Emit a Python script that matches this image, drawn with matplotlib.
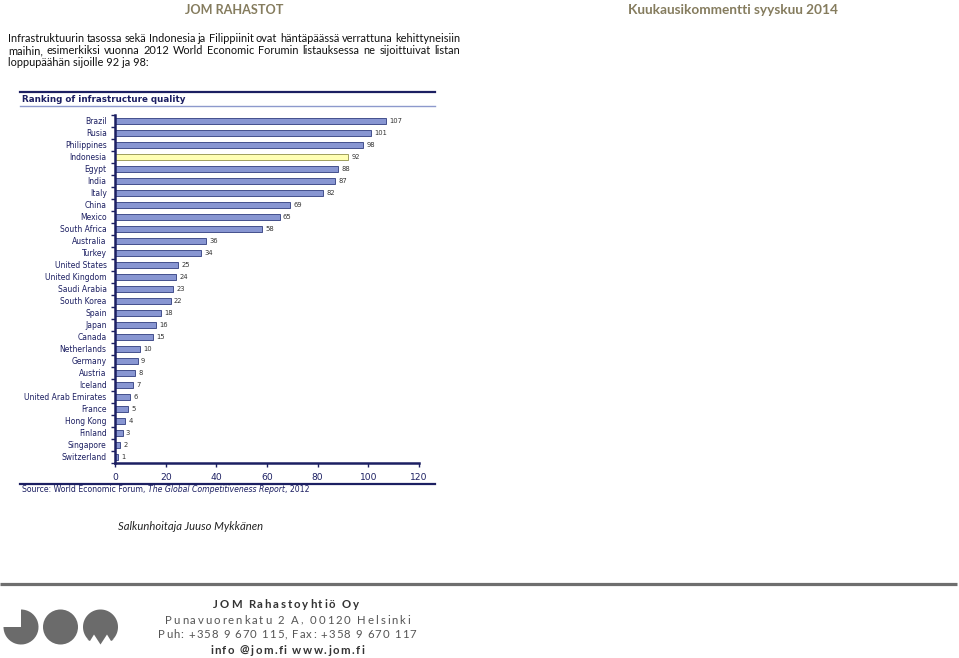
import numpy as np
import matplotlib.pyplot as plt
from matplotlib.patches import Circle, Wedge, Polygon

W, H = 959, 658

countries = ["Brazil", "Rusia", "Philippines", "Indonesia", "Egypt", "India", "Italy",
             "China", "Mexico", "South Africa", "Australia", "Turkey", "United States",
             "United Kingdom", "Saudi Arabia", "South Korea", "Spain", "Japan", "Canada",
             "Netherlands", "Germany", "Austria", "Iceland", "United Arab Emirates",
             "France", "Hong Kong", "Finland", "Singapore", "Switzerland"]
ranks = [107, 101, 98, 92, 88, 87, 82, 69, 65, 58, 36, 34, 25, 24, 23, 22, 18, 16, 15,
         10, 9, 8, 7, 6, 5, 4, 3, 2, 1]
highlight = "Indonesia"
xticks = [0, 20, 40, 60, 80, 100, 120]

paragraph = ["Infrastruktuurin tasossa sekä Indonesia ja Filippiinit ovat häntäpäässä verrattuna kehittyneisiin",
             "maihin, esimerkiksi vuonna 2012 World Economic Forumin listauksessa ne sijoittuivat listan",
             "loppupäähän sijoille 92 ja 98:"]
footer = ["JOM Rahastoyhtiö Oy", "Punavuorenkatu 2 A, 00120 Helsinki",
          "Puh: +358 9 670 115, Fax: +358 9 670 117", "info @jom.fi www.jom.fi"]

navy = "#1c1f62"
khaki = "#857c5e"
grey = "#6b6b6b"

fig = plt.figure(figsize=(W / 100, H / 100), dpi=100)
renderer = fig.canvas.get_renderer()

# page overlay in pixel coordinates (y down)
pg = fig.add_axes([0, 0, 1, 1])
pg.set_xlim(0, W)
pg.set_ylim(H, 0)
pg.axis("off")


def width_of(s, **kw):
    t = pg.text(0, 0, s, **kw)
    w = t.get_window_extent(renderer).width
    t.remove()
    return w


def fit_text(x0, x1, y, s, **kw):
    # pick a font size so the string spans x0..x1
    w = width_of(s, fontsize=10, **kw)
    size = 10 * (x1 - x0) / w
    pg.text(x0, y, s, fontsize=size, va="center", ha="left", **kw)
    return size


def justify(x0, x1, y, s, size, **kw):
    words = s.split()
    ws = [width_of(w, fontsize=size, **kw) for w in words]
    gap = (x1 - x0 - sum(ws)) / (len(words) - 1)
    x = x0
    for w, wd in zip(words, ws):
        pg.text(x, y, w, fontsize=size, va="baseline", ha="left", **kw)
        x += wd + gap


def tracked(x0, x1, y, s, size, **kw):
    # letter spaced line stretched over x0..x1
    dot = width_of(".", fontsize=size, **kw)
    pos = [width_of(s[:i] + ".", fontsize=size, **kw) - dot for i in range(len(s))]
    natural = width_of(s, fontsize=size, **kw)
    track = (x1 - x0 - natural) / (len(s) - 1)
    for i, ch in enumerate(s):
        if ch != " ":
            pg.text(x0 + pos[i] + i * track, y, ch, fontsize=size, va="baseline", ha="left", **kw)


# header
fit_text(185, 283, 10, "JOM RAHASTOT", family="Lato", weight="bold", color=khaki)
fit_text(628, 838, 10, "Kuukausikommentti syyskuu 2014", family="Lato", weight="bold", color=khaki)

# paragraph
psize = 10 * 452 / width_of(paragraph[0], fontsize=10, family="Lato")
justify(8, 460, 42, paragraph[0], psize, family="Lato", color="#111111")
justify(8, 460, 54, paragraph[1], psize, family="Lato", color="#111111")
pg.text(8, 66, paragraph[2], fontsize=psize, va="baseline", family="Lato", color="#111111")

# chart frame lines and title
pg.plot([20, 435], [92, 92], color=navy, lw=1.6)
pg.plot([20, 435], [106, 106], color="#8d99cc", lw=1.0)
pg.plot([20, 435], [484, 484], color=navy, lw=1.6)
fit_text(22, 184, 99.5, "Ranking of infrastructure quality", family="DejaVu Sans",
         weight="bold", color=navy)

# source line
ssize = 5.6
x = 22
for part, style in [("Source: World Economic Forum, ", "normal"),
                    ("The Global Competitiveness Report", "italic"),
                    (", 2012", "normal")]:
    pg.text(x, 492, part, fontsize=ssize, style=style, va="baseline", color=navy)
    x += width_of(part, fontsize=ssize, style=style)

# bar chart
ax = fig.add_axes([115 / W, 1 - 463 / H, (419 - 115) / W, (463 - 115) / H])
n = len(countries)
ypos = np.arange(n)[::-1]
colors = ["#ffffb4" if c == highlight else "#8896d2" for c in countries]
edges = ["#8f8f4a" if c == highlight else "#2f3c7e" for c in countries]
ax.barh(ypos, ranks, height=0.58, color=colors, edgecolor=edges, linewidth=0.6)
for y, v in zip(ypos, ranks):
    ax.text(v + 1.3, y, str(v), fontsize=4.9, va="center", ha="left", color="#333333")

ax.set_xlim(0, 120)
ax.set_ylim(-0.5, n - 0.5)
ax.set_xticks(xticks)
ax.set_yticks(ypos)
ax.set_yticklabels(countries)
ax.set_yticks(np.arange(n + 1) - 0.5, minor=True)
ax.tick_params(axis="y", which="major", length=0, pad=6, labelsize=5.5, labelcolor=navy)
ax.tick_params(axis="y", which="minor", length=3, width=1, color=navy, direction="out")
ax.tick_params(axis="x", length=3, width=1, color=navy, labelsize=6.6, labelcolor=navy, pad=4)
for s in ["top", "right"]:
    ax.spines[s].set_visible(False)
for s in ["left", "bottom"]:
    ax.spines[s].set_color(navy)
    ax.spines[s].set_linewidth(1.8)
ax.patch.set_alpha(0)

# signature
fit_text(118, 263, 527, "Salkunhoitaja Juuso Mykkänen", family="Lato", style="italic",
         color="#222222")

# footer rule
pg.plot([0, 957], [584, 584], color="#6e6e6e", lw=2.3, solid_capstyle="butt")

# logo
pg.add_patch(Wedge((21, 627), 17.5, -90, 180, color=grey, lw=0))
pg.add_patch(Circle((60.5, 627), 17.5, color=grey, lw=0))
t = np.radians(np.linspace(133, 407, 80))
arc = np.column_stack([100.5 + 17.5 * np.cos(t), 627 + 17.5 * np.sin(t)])
notch = np.array([[114.0, 639.5], [111.0, 641.0], [107.0, 634.5], [100.5, 644.5],
                  [94.0, 634.5], [90.0, 641.0], [87.0, 639.5]])
pg.add_patch(Polygon(np.vstack([arc, notch]), closed=True, color=grey, lw=0))

# footer text
tracked(213, 359, 608.5, footer[0], 8.2, family="Lato", weight="bold", color="#333333")
tracked(165, 410, 623.5, footer[1], 8.2, family="Lato", color="#555555")
tracked(158, 416, 638.5, footer[2], 8.2, family="Lato", color="#555555")
tracked(210, 364, 653.5, footer[3], 8.2, family="Lato", weight="bold", color="#333333")

fig.savefig("out.png", dpi=100)
